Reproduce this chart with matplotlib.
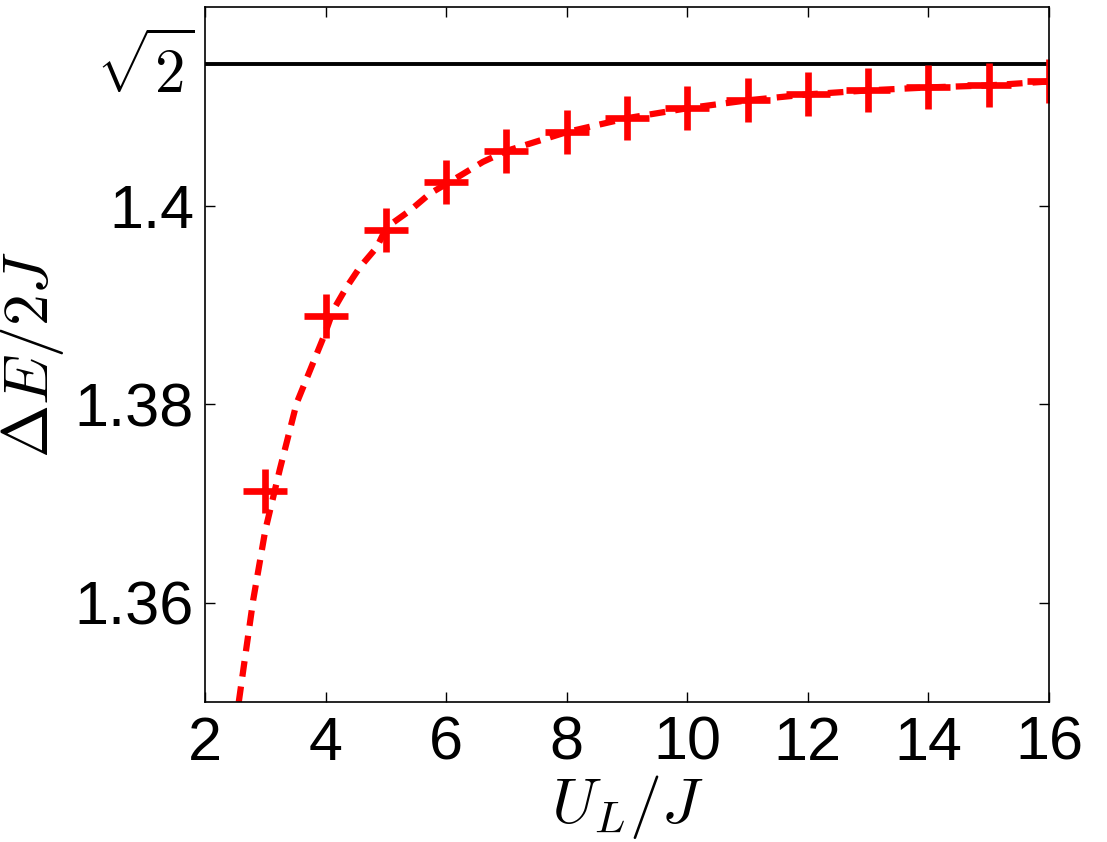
import numpy as np
import matplotlib.pyplot as plt

plt.rcParams['font.family'] = ['Liberation Sans', 'DejaVu Sans']
plt.rcParams['mathtext.fontset'] = 'cm'

# computed gap values (markers)
U = [3, 4, 5, 6, 7, 8, 9, 10, 11, 12, 13, 14, 15, 16]
gap = [1.3713, 1.3889, 1.3975, 1.4024, 1.4055, 1.4074, 1.4088, 1.4098,
       1.4106, 1.4112, 1.4116, 1.4119, 1.4121, 1.4125]

# dashed curve
U_fit = [2.56, 2.69, 2.80, 3.00, 3.24, 3.52, 3.99, 4.13, 4.35, 4.57, 4.85,
         5.01, 5.40, 5.73, 6.23, 6.61, 7.0, 8.0, 9.0, 10.0, 11.0, 12.0,
         13.0, 14.0, 15.0, 16.0]
gap_fit = [1.3500, 1.3556, 1.3603, 1.3673, 1.3734, 1.3801, 1.3871, 1.3895,
           1.3918, 1.3938, 1.3958, 1.3978, 1.3995, 1.4012, 1.4030, 1.4044,
           1.4055, 1.4074, 1.4088, 1.4098, 1.4106, 1.4112, 1.4116, 1.4119,
           1.4121, 1.4125]

xticks = [2, 4, 6, 8, 10, 12, 14, 16]
yticks = [1.36, 1.38, 1.40, np.sqrt(2)]
ylabels = ['1.36', '1.38', '1.4', r'$\sqrt{2}$']

fig = plt.figure(figsize=(11.07, 8.42), dpi=100)
ax = fig.add_axes([0.1852, 0.1663, 0.7624, 0.8254])

ax.plot([2, 16], [np.sqrt(2), np.sqrt(2)], color='black', lw=2.8)
ax.plot(U_fit, gap_fit, color='red', lw=4.5, dashes=(2.5, 1.6))
ax.plot(U, gap, '+', color='red', ms=31, mew=4.8)

ax.set_xlim(2, 16)
ax.set_ylim(1.35, 1.42)
ax.set_xticks(xticks)
ax.set_yticks(yticks)
ax.set_yticklabels(ylabels)
ax.tick_params(direction='in', length=7, width=1, labelsize=44,
               top=True, right=True, pad=10)
ax.tick_params(axis='y', pad=8)
for s in ax.spines.values():
    s.set_linewidth(1.2)

ax.set_xlabel(r'$U_L/J$', fontsize=46, labelpad=0)
ax.set_ylabel(r'$\Delta E/2J$', fontsize=46)
ax.yaxis.set_label_coords(-0.165, 0.5)

fig.savefig('out.png', dpi=100)
